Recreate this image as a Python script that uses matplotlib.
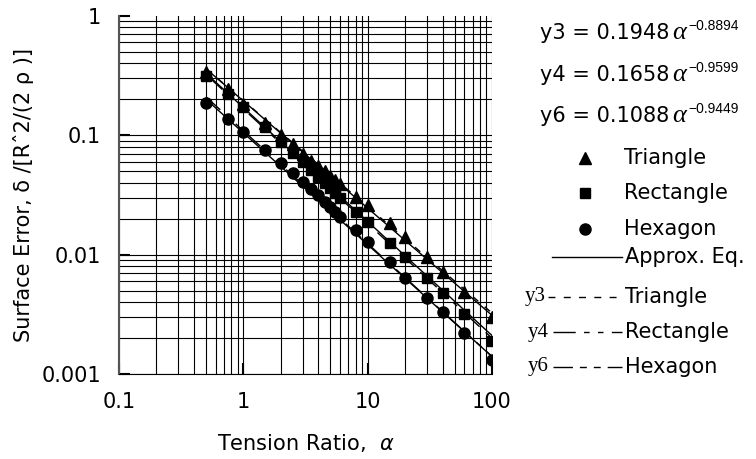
import matplotlib.pyplot as plt
from matplotlib.lines import Line2D

alpha = [0.5, 0.75, 1, 1.5, 2, 2.5, 3, 3.5, 4, 4.5, 5, 5.5, 6, 8, 10, 15, 20, 30, 40, 60, 100]
triangle = [0.34, 0.242, 0.182, 0.127, 0.100, 0.084, 0.0695, 0.061, 0.055, 0.050, 0.0455, 0.042,
            0.039, 0.0305, 0.026, 0.0183, 0.0139, 0.0095, 0.0072, 0.0049, 0.0030]
rectangle = [0.313, 0.22, 0.171, 0.1175, 0.088, 0.071, 0.060, 0.051, 0.045, 0.040, 0.036, 0.033,
             0.030, 0.0228, 0.0188, 0.0124, 0.0095, 0.0064, 0.0048, 0.0032, 0.0019]
hexagon = [0.185, 0.136, 0.106, 0.075, 0.058, 0.048, 0.0407, 0.0352, 0.0315, 0.0277, 0.0251, 0.0228,
           0.0207, 0.016, 0.0128, 0.0086, 0.0064, 0.00435, 0.0033, 0.0022, 0.0013]

# power-law fits y = c * alpha^p
fit_names = ['y3', 'y4', 'y6']
fit_coef = [0.1948, 0.1658, 0.1088]
fit_exp = [-0.8894, -0.9599, -0.9449]
fit_range = [0.5, 100]

# approximate equation lines (end values)
approx_range = [0.5, 100]
approx_tri = [0.36, 0.0031]
approx_rect = [0.33, 0.0021]
approx_hex = [0.20, 0.0014]

xticks = [0.1, 1, 10, 100]
xtick_labels = ['0.1', '1', '10', '100']
yticks = [0.001, 0.01, 0.1, 1]
ytick_labels = ['0.001', '0.01', '0.1', '1']

W, H = 756, 459
plt.rcParams['font.family'] = ['DejaVu Sans']

fig = plt.figure(figsize=(W / 100, H / 100), dpi=100)
ax = fig.add_axes([119 / W, 1 - 374 / H, (492 - 119) / W, (374 - 15.7) / H])
ax.set_xscale('log')
ax.set_yscale('log')
ax.set_xlim(0.1, 100)
ax.set_ylim(0.001, 1)

ax.grid(which='both', color='black', lw=0.8)
ax.set_axisbelow(True)
ax.spines['top'].set_visible(False)
ax.spines['right'].set_visible(False)
ax.spines['left'].set_color('#555555')
ax.spines['left'].set_linewidth(1.5)
ax.tick_params(which='major', direction='in', length=8, width=1.5, labelsize=15, pad=13)
ax.tick_params(which='minor', length=0)
ax.set_xticks(xticks, xtick_labels)
ax.set_yticks(yticks, ytick_labels)
for t in ax.yaxis.get_major_ticks():
    if abs(t.get_loc() - 1) < 1e-9:
        t.gridline.set_visible(False)

# lines
styles = [(0, (5, 6)), (0, (16, 6, 4, 6, 4, 6)), (0, (14, 5, 5, 5, 5, 5))]
for c, p, ls in zip(fit_coef, fit_exp, styles):
    ax.plot(fit_range, [c * a ** p for a in fit_range], color='black', lw=1, ls=ls)
for vals in [approx_tri, approx_rect, approx_hex]:
    ax.plot(approx_range, vals, color='black', lw=1)

ax.plot(alpha, triangle, ls='none', marker='^', color='black', ms=9, zorder=5)
ax.plot(alpha, rectangle, ls='none', marker='s', color='black', ms=7.5, zorder=5)
ax.plot(alpha, hexagon, ls='none', marker='o', color='black', ms=8, zorder=5)

ax.set_xlabel('Tension Ratio,  $\\alpha$', fontsize=15, labelpad=14)
ax.set_ylabel('Surface Error, \u03b4 /[R\u02c62/(2 \u03c1 )]', fontsize=15, labelpad=5)


def fx(x):
    return x / W


def fy(y):
    return 1 - y / H


# equations
eq_y = [33, 75, 116]
for name, c, p, yc in zip(fit_names, fit_coef, fit_exp, eq_y):
    t = fig.text(fx(540), fy(yc), f'{name} = {c:.4f}', ha='left', va='center', fontsize=15)
    a = ax.annotate('\u03b1', xy=(1, 0.5), xycoords=t, xytext=(2, 0), textcoords='offset points',
                    ha='left', va='center', fontsize=19, family='Liberation Serif', style='italic',
                    annotation_clip=False)
    ax.annotate(f'\u2212{abs(p):.4f}', xy=(1, 1), xycoords=a, xytext=(2, -3),
                textcoords='offset points', ha='left', va='center', fontsize=10,
                family='Liberation Sans', annotation_clip=False)

# marker legend
marker_rows = [('^', 9, 'Triangle', 158), ('s', 7.5, 'Rectangle', 193), ('o', 8, 'Hexagon', 229)]
for m, ms, label, yc in marker_rows:
    fig.add_artist(Line2D([fx(585)], [fy(yc)], marker=m, ms=ms, color='black', ls='none',
                          transform=fig.transFigure))
    fig.text(fx(624), fy(yc), label, ha='left', va='center', fontsize=15)

# line legend
fig.add_artist(Line2D([fx(552), fx(622)], [fy(257), fy(257)], color='black', lw=1,
                      transform=fig.transFigure))
fig.text(fx(625), fy(257), 'Approx. Eq.', ha='left', va='center', fontsize=15)

line_rows = [('y3', 'Triangle', 297, 525, 548), ('y4', 'Rectangle', 332, 528, 553),
             ('y6', 'Hexagon', 367, 528, 553)]
for (name, label, yc, xn, x0), ls in zip(line_rows, styles):
    fig.text(fx(xn), fy(yc), name, ha='left', va='center', fontsize=15, family='Liberation Serif')
    fig.add_artist(Line2D([fx(x0), fx(622)], [fy(yc), fy(yc)], color='black', lw=1, ls=ls,
                          transform=fig.transFigure))
    fig.text(fx(625), fy(yc), label, ha='left', va='center', fontsize=15)

fig.savefig('out.png', dpi=100)
